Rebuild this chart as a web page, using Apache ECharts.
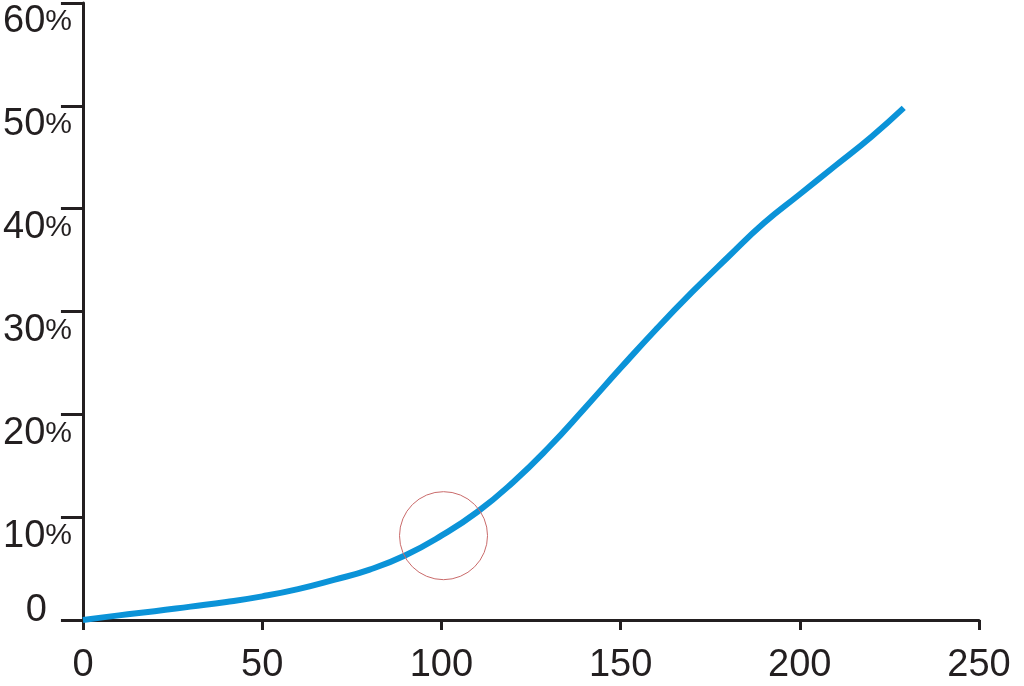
<!DOCTYPE html>
<html>
<head>
<meta charset="utf-8">
<script src="https://cdn.jsdelivr.net/npm/echarts@6/dist/echarts.min.js"></script>
<style>
  html, body { margin: 0; padding: 0; background: #fff; }
  #chart { width: 1024px; height: 686px; }
</style>
</head>
<body>
<div id="chart"></div>
<script>
// curve: x value, percent
const xValues = [0, 10, 20, 30, 40, 50, 60, 70, 80, 90, 100, 110, 120, 130, 140, 150, 160, 170, 180, 190, 200, 210, 220, 229]
const yValues = [0, 0.45, 0.85, 1.3, 1.75, 2.3, 3.0, 3.9, 4.9, 6.3, 8.2, 10.5, 13.4, 16.8, 20.6, 24.5, 28.3, 31.9, 35.3, 38.6, 41.4, 44.2, 47.0, 49.8]
const xTicks = [0, 50, 100, 150, 200, 250]
const yTicks = [0, 10, 20, 30, 40, 50, 60]
const circleCenter = [100.6, 8.2]

const axisColor = '#231f20'
const textColor = '#231f20'
const font = 'Liberation Sans, Arial, sans-serif'

const chart = echarts.init(document.getElementById('chart'))

const option = {
  animation: false,
  grid: {
    left: 82,
    right: 45,
    top: 3,
    bottom: 66
  },
  xAxis: {
    type: 'value',
    min: xTicks[0],
    max: xTicks[xTicks.length - 1],
    interval: 50,
    splitLine: { show: false },
    axisLine: { lineStyle: { color: axisColor, width: 3 } },
    axisTick: { length: 10, lineStyle: { color: axisColor, width: 3 } },
    axisLabel: {
      margin: 27,
      color: textColor,
      fontFamily: font,
      fontSize: 38
    }
  },
  yAxis: [
    {
      type: 'value',
      min: yTicks[0],
      max: yTicks[yTicks.length - 1],
      interval: 10,
      splitLine: { show: false },
      axisLine: { show: true, onZero: false, lineStyle: { color: axisColor, width: 3 } },
      axisTick: { length: 22, lineStyle: { color: axisColor, width: 3 } },
      axisLabel: {
        margin: 11,
        verticalAlign: 'top',
        color: textColor,
        fontFamily: font,
        formatter: v => v === 0 ? '' : '{n|' + v + '}{p|%}',
        rich: {
          n: { fontSize: 38, fontFamily: font, color: textColor },
          p: { fontSize: 30, fontFamily: font, color: textColor }
        }
      }
    },
    {
      // only the "0" label, which sits just above its tick
      type: 'value',
      position: 'left',
      offset: 0,
      min: yTicks[0],
      max: yTicks[yTicks.length - 1],
      interval: 10,
      splitLine: { show: false },
      axisLine: { show: false },
      axisTick: { show: false },
      axisLabel: {
        margin: 36,
        verticalAlign: 'bottom',
        color: textColor,
        fontFamily: font,
        formatter: v => v === 0 ? '{z|0}' : '',
        rich: {
          z: { fontSize: 38, lineHeight: 18, fontFamily: font, color: textColor }
        }
      }
    }
  ],
  series: [
    {
      type: 'line',
      data: xValues.map((x, i) => [x, yValues[i]]),
      smooth: 0.5,
      showSymbol: false,
      lineStyle: { color: '#0b93d8', width: 6 },
      markPoint: {
        symbol: 'circle',
        symbolSize: 88,
        silent: true,
        itemStyle: { color: 'rgba(0,0,0,0)', borderColor: '#c96a6a', borderWidth: 1 },
        label: { show: false },
        data: [{ coord: circleCenter }]
      }
    }
  ]
}

chart.setOption(option)
</script>
</body>
</html>
